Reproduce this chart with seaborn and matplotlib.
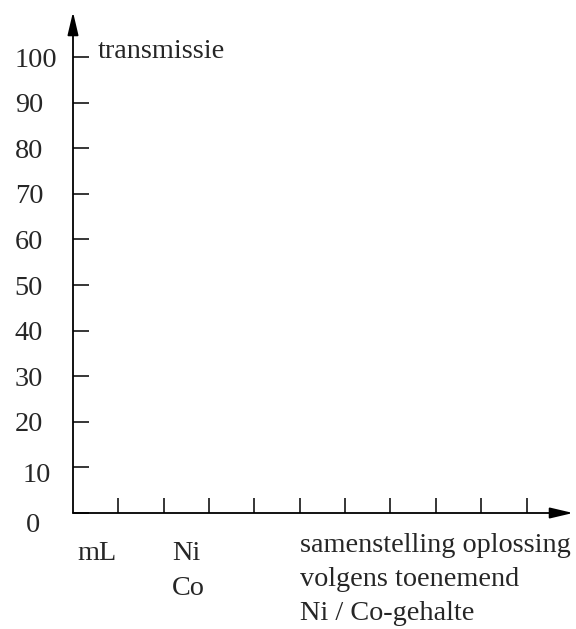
import matplotlib
matplotlib.use("Agg")
import matplotlib.pyplot as plt
import matplotlib.transforms as mtransforms
import seaborn as sns

# empty answer grid: transmissie vs solution composition
y_ticks = [0, 10, 20, 30, 40, 50, 60, 70, 80, 90, 100]
y_labels = [str(v) for v in y_ticks]
x_ticks = [1, 2, 3, 4, 5, 6, 7, 8, 9, 10]
y_title = "transmissie"
x_title = ["samenstelling oplossing", "volgens toenemend", "Ni / Co-gehalte"]
x_unit = "mL"
x_species = ["Ni", "Co"]

sns.set_style("white")
plt.rcParams["font.family"] = ["Liberation Serif", "DejaVu Serif"]
FS = 20.3

W, H = 576, 629
fig = plt.figure(figsize=(W / 100, H / 100), dpi=100)
ax = fig.add_axes([73 / W, 1 - 513 / H, 500 / W, 501 / H])
ax.set_xlim(0, 500 / 45.35)
ax.set_ylim(0, 501 / 4.56)

for s in ax.spines.values():
    s.set_visible(False)

# axes with arrow heads
arrow = dict(arrowstyle="-|>,head_length=1.4,head_width=0.33", color="black",
             lw=1.3, shrinkA=0, shrinkB=0)
ax.annotate("", xy=(1, 0), xytext=(0, 0), xycoords="axes fraction", arrowprops=arrow)
ax.annotate("", xy=(0, 1), xytext=(0, 0), xycoords="axes fraction", arrowprops=arrow)

ax.set_xticks(x_ticks)
ax.set_xticklabels([])
ax.tick_params(axis="x", bottom=True, direction="in", length=11, width=1.1, color="black")

ax.set_yticks(y_ticks)
ax.set_yticklabels(y_labels, fontsize=FS, ha="left")
ax.tick_params(axis="y", left=True, direction="in", length=11.5, width=1.1, color="black", pad=42)

# small nudges for the lowest labels
labels = ax.get_yticklabels()
nudges = {"0": (11, -9), "10": (8, -5)}
for lab in labels:
    if lab.get_text() in nudges:
        dx, dy = nudges[lab.get_text()]
        lab.set_transform(lab.get_transform() +
                          mtransforms.ScaledTranslation(dx / 100, dy / 100, fig.dpi_scale_trans))

fig.text(98 / W, 1 - 58 / H, y_title, fontsize=FS, va="baseline", ha="left")
fig.text(77 / W, 1 - 560 / H, x_unit, fontsize=FS, va="baseline", ha="left")
fig.text(172 / W, 1 - 560 / H, x_species[0], fontsize=FS, va="baseline", ha="left")
fig.text(172 / W, 1 - 595 / H, x_species[1], fontsize=FS, va="baseline", ha="left")
for i, line in enumerate(x_title):
    fig.text(300 / W, 1 - (552 + 34 * i) / H, line, fontsize=FS, va="baseline", ha="left")

fig.savefig("out.png", dpi=100, facecolor="white")
